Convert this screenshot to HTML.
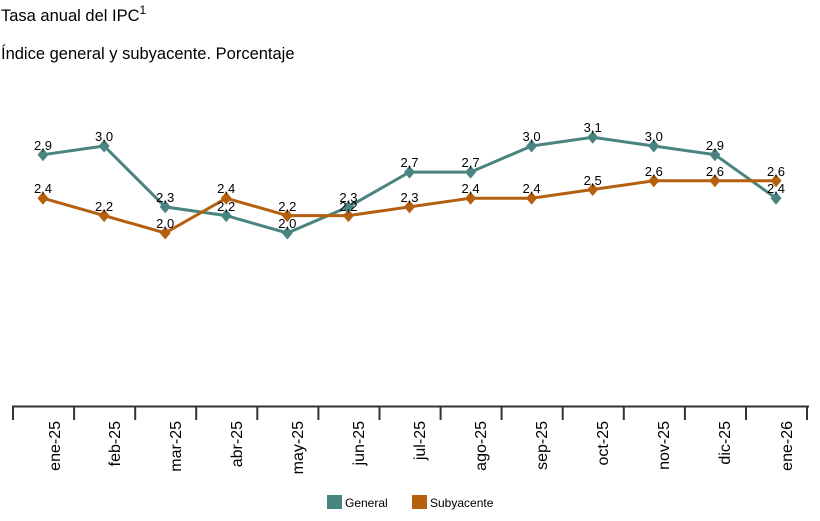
<!DOCTYPE html>
<html><head><meta charset="utf-8"><style>
body{margin:0;background:#fff;width:820px;height:516px;overflow:hidden}
text{font-family:"Liberation Sans",Arial,sans-serif}
</style></head><body>
<svg width="820" height="516" viewBox="0 0 820 516" xmlns="http://www.w3.org/2000/svg">
<defs><path id="d" d="M0,-6.5 L5.5,0 L0,6.5 L-5.5,0 Z"/></defs>
<text x="1" y="21" font-size="16.5" fill="#000">Tasa anual del IPC<tspan font-size="12" dy="-7">1</tspan></text>
<text x="1" y="59" font-size="16.5" fill="#000">Índice general y subyacente. Porcentaje</text>
<g stroke="#333" stroke-width="2" fill="none">
<line x1="12" y1="406.5" x2="809" y2="406.5"/>
<path d="M13,406V420M74.1,406V420M135.2,406V420M196.2,406V420M257.3,406V420M318.4,406V420M379.5,406V420M440.6,406V420M501.6,406V420M562.7,406V420M623.8,406V420M684.9,406V420M746,406V420M807,406V420"/>
</g>
<g font-size="16" fill="#000" text-anchor="end">
<text transform="translate(60,421) rotate(-90)">ene-25</text>
<text transform="translate(120,421) rotate(-90)">feb-25</text>
<text transform="translate(181,421) rotate(-90)">mar-25</text>
<text transform="translate(242,421) rotate(-90)">abr-25</text>
<text transform="translate(303,421) rotate(-90)">may-25</text>
<text transform="translate(364,421) rotate(-90)">jun-25</text>
<text transform="translate(425,421) rotate(-90)">jul-25</text>
<text transform="translate(486,421) rotate(-90)">ago-25</text>
<text transform="translate(547,421) rotate(-90)">sep-25</text>
<text transform="translate(608,421) rotate(-90)">oct-25</text>
<text transform="translate(669,421) rotate(-90)">nov-25</text>
<text transform="translate(730,421) rotate(-90)">dic-25</text>
<text transform="translate(792,421) rotate(-90)">ene-26</text>
</g>
<polyline fill="none" stroke="#4a8480" stroke-width="3" points="43,154.7 104.1,146 165.2,206.9 226.2,215.6 287.3,233 348.4,206.9 409.5,172.1 470.6,172.1 531.6,146 592.7,137.3 653.8,146 714.9,154.7 776,198.2"/>
<polyline fill="none" stroke="#b5600f" stroke-width="3" points="43,198.2 104.1,215.6 165.2,233 226.2,198.2 287.3,215.6 348.4,215.6 409.5,206.9 470.6,198.2 531.6,198.2 592.7,189.5 653.8,180.8 714.9,180.8 776,180.8"/>
<g fill="#b5600f">
<use href="#d" x="43" y="198.2"/><use href="#d" x="104.1" y="215.6"/><use href="#d" x="165.2" y="233"/><use href="#d" x="226.2" y="198.2"/><use href="#d" x="287.3" y="215.6"/><use href="#d" x="348.4" y="215.6"/><use href="#d" x="409.5" y="206.9"/><use href="#d" x="470.6" y="198.2"/><use href="#d" x="531.6" y="198.2"/><use href="#d" x="592.7" y="189.5"/><use href="#d" x="653.8" y="180.8"/><use href="#d" x="714.9" y="180.8"/><use href="#d" x="776" y="180.8"/>
</g>
<g fill="#4a8480">
<use href="#d" x="43" y="154.7"/><use href="#d" x="104.1" y="146"/><use href="#d" x="165.2" y="206.9"/><use href="#d" x="226.2" y="215.6"/><use href="#d" x="287.3" y="233"/><use href="#d" x="348.4" y="206.9"/><use href="#d" x="409.5" y="172.1"/><use href="#d" x="470.6" y="172.1"/><use href="#d" x="531.6" y="146"/><use href="#d" x="592.7" y="137.3"/><use href="#d" x="653.8" y="146"/><use href="#d" x="714.9" y="154.7"/><use href="#d" x="776" y="198.2"/>
</g>
<g font-size="13" fill="#000" text-anchor="middle">
<text x="43" y="150">2,9</text><text x="104.1" y="141">3,0</text><text x="165.2" y="202">2,3</text><text x="226.2" y="211">2,2</text><text x="287.3" y="228">2,0</text><text x="348.4" y="202">2,3</text><text x="409.5" y="167">2,7</text><text x="470.6" y="167">2,7</text><text x="531.6" y="141">3,0</text><text x="592.7" y="132">3,1</text><text x="653.8" y="141">3,0</text><text x="714.9" y="150">2,9</text><text x="776" y="193">2,4</text>
<text x="43" y="193">2,4</text><text x="104.1" y="211">2,2</text><text x="165.2" y="228">2,0</text><text x="226.2" y="193">2,4</text><text x="287.3" y="211">2,2</text><text x="348.4" y="211">2,2</text><text x="409.5" y="202">2,3</text><text x="470.6" y="193">2,4</text><text x="531.6" y="193">2,4</text><text x="592.7" y="185">2,5</text><text x="653.8" y="176">2,6</text><text x="714.9" y="176">2,6</text><text x="776" y="176">2,6</text>
</g>
<rect x="327" y="495" width="15" height="14" fill="#4a8480"/>
<text x="345" y="507" font-size="12" fill="#000">General</text>
<rect x="412" y="495" width="15" height="14" fill="#b5600f"/>
<text x="430" y="507" font-size="12" fill="#000">Subyacente</text>
</svg>
</body></html>
